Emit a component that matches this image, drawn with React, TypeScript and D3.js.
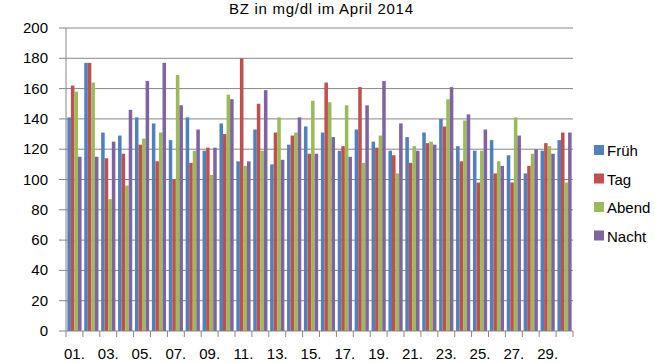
import React, { useEffect, useRef } from "react";
import * as d3 from "d3";

// April 2014, one entry per day
const days = d3.range(1, 31).map((d) => String(d).padStart(2, "0") + ".");
const seriesNames = ["Früh", "Tag", "Abend", "Nacht"];
const colors = ["#4F81BD", "#C0504D", "#9BBB59", "#8064A2"];

const frueh = [141, 177, 131, 129, 141, 137, 126, 141, 119, 137, 112, 133, 110, 123, 135, 131, 119, 133, 125, 119, 128, 131, 140, 122, 119, 126, 116, 104, 119, 126];
const tag = [162, 177, 114, 117, 123, 112, 100, 111, 121, 130, 180, 150, 131, 129, 117, 164, 122, 161, 121, 116, 111, 124, 135, 112, 98, 104, 98, 109, 124, 131];
const abend = [158, 164, 87, 96, 127, 131, 169, 119, 103, 156, 109, 119, 141, 131, 152, 151, 149, 111, 129, 104, 122, 125, 153, 139, 119, 112, 141, 117, 122, 98];
const nacht = [115, 115, 125, 146, 165, 177, 149, 133, 121, 153, 112, 159, 113, 141, 117, 128, 115, 149, 165, 137, 119, 123, 161, 143, 133, 109, 129, 120, 117, 131];

const yTicks = [0, 20, 40, 60, 80, 100, 120, 140, 160, 180, 200];

const W = 655;
const H = 363;
const margin = { top: 28, right: 82, bottom: 32, left: 66 };
const font = "Liberation Sans, Arial, sans-serif";

export default function App() {
  const svgRef = useRef<SVGSVGElement | null>(null);

  useEffect(() => {
    const svg = d3.select(svgRef.current);
    svg.selectAll("*").remove();

    const values = [frueh, tag, abend, nacht];
    const x0 = margin.left;
    const x1 = W - margin.right;
    const yBottom = H - margin.bottom;

    const x = d3.scaleBand().domain(days).range([x0, x1]).paddingInner(0.16).paddingOuter(0.08);
    const xs = d3.scaleBand().domain(seriesNames).range([0, x.bandwidth()]).padding(0);
    const y = d3.scaleLinear().domain([0, 200]).range([yBottom, margin.top]);
    const step = (x1 - x0) / days.length;

    // grid lines
    svg
      .append("g")
      .selectAll("line")
      .data(yTicks.slice(1))
      .enter()
      .append("line")
      .attr("x1", x0)
      .attr("x2", x1)
      .attr("y1", (d) => y(d))
      .attr("y2", (d) => y(d))
      .attr("stroke", "#868686")
      .attr("stroke-width", 1);

    // bars
    seriesNames.forEach((name, si) => {
      svg
        .append("g")
        .selectAll("rect")
        .data(values[si])
        .enter()
        .append("rect")
        .attr("x", (_, i) => (x(days[i]) as number) + (xs(name) as number))
        .attr("y", (d) => y(d))
        .attr("width", xs.bandwidth())
        .attr("height", (d) => y(0) - y(d))
        .attr("fill", colors[si]);
    });

    // y axis
    const yAxis = svg.append("g");
    yAxis
      .append("line")
      .attr("x1", x0)
      .attr("x2", x0)
      .attr("y1", y(200))
      .attr("y2", yBottom)
      .attr("stroke", "#868686");
    yAxis
      .selectAll("line.tick")
      .data(yTicks)
      .enter()
      .append("line")
      .attr("class", "tick")
      .attr("x1", x0 - 7)
      .attr("x2", x0)
      .attr("y1", (d) => y(d))
      .attr("y2", (d) => y(d))
      .attr("stroke", "#868686");
    yAxis
      .selectAll("text")
      .data(yTicks)
      .enter()
      .append("text")
      .attr("x", 48)
      .attr("y", (d) => y(d) + 5)
      .attr("text-anchor", "end")
      .style("font-family", font)
      .style("font-size", "15px")
      .attr("fill", "#000")
      .text((d) => d);

    // x axis
    const xAxis = svg.append("g");
    xAxis
      .append("line")
      .attr("x1", x0)
      .attr("x2", x1)
      .attr("y1", yBottom)
      .attr("y2", yBottom)
      .attr("stroke", "#868686");
    xAxis
      .selectAll("line.tick")
      .data(d3.range(days.length + 1))
      .enter()
      .append("line")
      .attr("class", "tick")
      .attr("x1", (i) => x0 + i * step)
      .attr("x2", (i) => x0 + i * step)
      .attr("y1", yBottom)
      .attr("y2", yBottom + 6)
      .attr("stroke", "#868686");
    xAxis
      .selectAll("text")
      .data(days.filter((_, i) => i % 2 === 0))
      .enter()
      .append("text")
      .attr("x", (d) => (x(d) as number) + x.bandwidth() / 2)
      .attr("y", 359)
      .attr("text-anchor", "middle")
      .style("font-family", font)
      .style("font-size", "15px")
      .attr("fill", "#000")
      .text((d) => d);

    // title
    svg
      .append("text")
      .attr("x", 321)
      .attr("y", 14)
      .attr("text-anchor", "middle")
      .style("font-family", font)
      .style("font-size", "15px")
      .attr("textLength", 184)
      .attr("fill", "#000")
      .text("BZ in mg/dl im April 2014");

    // legend
    const legend = svg
      .append("g")
      .selectAll("g")
      .data(seriesNames)
      .enter()
      .append("g")
      .attr("transform", (_, i) => `translate(594, ${150 + i * 28.5})`);
    legend
      .append("rect")
      .attr("x", 0)
      .attr("y", -5)
      .attr("width", 10)
      .attr("height", 10)
      .attr("fill", (_, i) => colors[i]);
    legend
      .append("text")
      .attr("x", 13)
      .attr("y", 6)
      .style("font-family", font)
      .style("font-size", "15px")
      .attr("fill", "#000")
      .text((d) => d);
  }, []);

  return (
    <svg
      ref={svgRef}
      width={W}
      height={H}
      style={{ position: "absolute", left: 0, top: 0, background: "#fff" }}
    ></svg>
  );
}
